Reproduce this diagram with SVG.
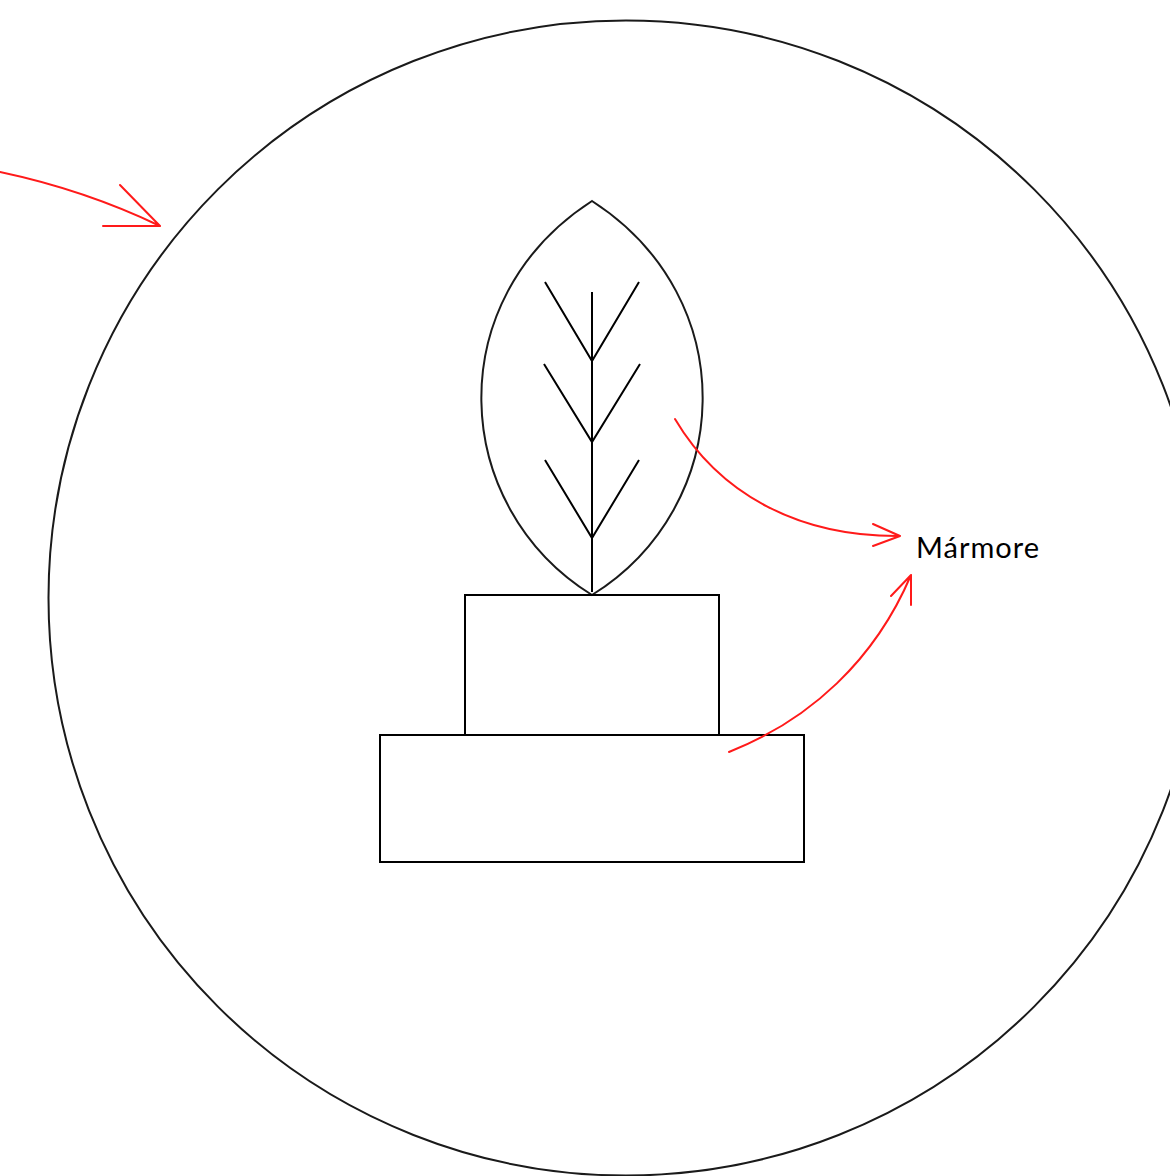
<svg xmlns="http://www.w3.org/2000/svg" width="1170" height="1176" viewBox="0 0 1170 1176">
<style>
.k{fill:none;stroke:#1a1a1a;stroke-width:2}
.v{fill:none;stroke:#000;stroke-width:2}
.r{fill:none;stroke:#ff1a1a;stroke-width:2;stroke-linejoin:round;stroke-linecap:round}
text{font-family:Lato,"Liberation Sans",sans-serif;font-size:29px;font-weight:400;fill:#000}
</style>
<rect width="1170" height="1176" fill="#fff"/>
<g id="circle"><circle class="k" cx="626" cy="598" r="577.5"/></g>
<g id="leaf">
<path class="k" d="M592 201C440 299 449 506 592 595C735 506 744 299 592 201Z"/>
<path class="v" d="M592 292V592M545 282L592 361L639 282M544 364L592 442L640 364M545 460L592 538L639 460"/>
</g>
<g id="base-top"><rect class="v" x="465" y="595" width="254" height="140"/></g>
<g id="base-bottom"><rect class="v" x="380" y="735" width="424" height="127"/></g>
<g id="connectors">
<path class="r" d="M0 172Q85 190 160 226M120 185L160 226H103"/>
<path class="r" d="M675 419C720 495 800 537 900 536M873 524L900 536L873 546"/>
<path class="r" d="M729 752C810 720 875 660 911 575M891 596L911 575V605"/>
</g>
<g id="label"><text x="916" y="558" textLength="123" lengthAdjust="spacing">Mármore</text></g>
</svg>
